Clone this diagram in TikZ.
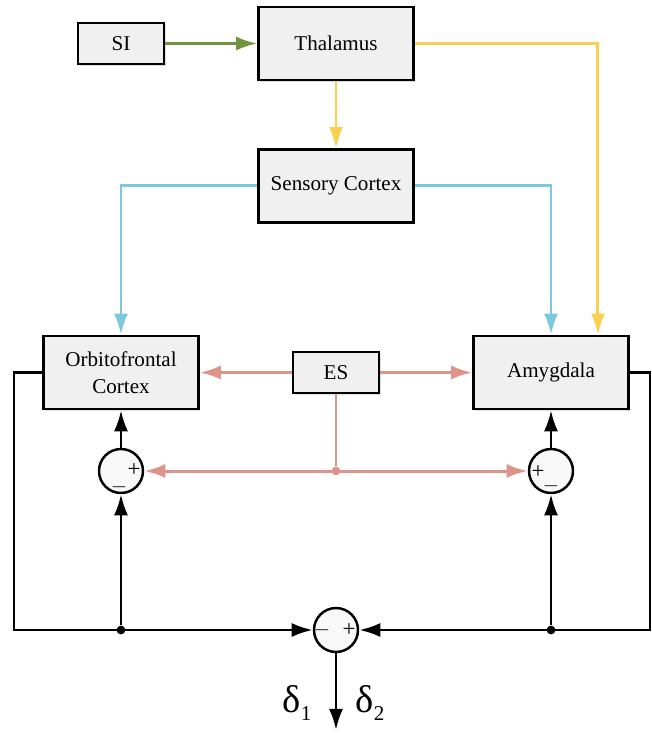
\documentclass[tikz,border=0pt]{standalone}
\usepackage{fontspec}
\setmainfont{Liberation Serif}
\usetikzlibrary{arrows.meta,positioning,shadows}

\definecolor{boxgray}{RGB}{240,240,240}
\definecolor{siGreen}{RGB}{114,148,62}
\definecolor{thYellow}{RGB}{250,208,80}
\definecolor{scBlue}{RGB}{125,200,222}
\definecolor{esPink}{RGB}{222,148,138}

\begin{document}
\begin{tikzpicture}[
    x=0.02cm, y=-0.02cm,
    box/.style={rectangle, draw, line width=1.4pt, fill=boxgray, minimum width=3.1cm, minimum height=1.46cm, align=center, font=\fontsize{12}{15}\selectfont, drop shadow={opacity=0.25, shadow xshift=1pt, shadow yshift=-1pt}},
    smallbox/.style={box, minimum width=1.72cm, minimum height=0.82cm},
    sumnode/.style={circle, draw, line width=1.4pt, fill=boxgray!50, minimum size=0.88cm, inner sep=0pt},
    sign/.style={inner sep=0pt, font=\fontsize{13}{13}\selectfont},
    dot/.style={circle, fill, inner sep=0pt, minimum size=5pt},
    sig/.style={-{Latex[length=12pt, width=8pt]}, line width=1.6pt},
    colarrow/.style={-{Latex[length=12pt, width=8pt]}, line width=1.7pt}
]
\useasboundingbox (0,0) rectangle (652,735);

% blocks
\node[box] (thal) at (336,43.5) {Thalamus};
\node[smallbox] (si) at (121,43.5) {SI};
\node[box, below=1.34cm of thal] (sens) {Sensory Cortex};
\node[box] (ofc) at (121,372.5) {Orbitofrontal\\Cortex};
\node[box] (amy) at (551,372.5) {Amygdala};
\node[smallbox] (es) at (336,372.5) {ES};

% summing junctions
\node[sumnode] (sumL) at (121,471) {};
\node[sumnode] (sumR) at (551,471) {};
\node[sumnode] (sumB) at (336,630) {};
\node[sign] at (134,470) {+};
\node[sign] at (119,487) {$-$};
\node[sign] at (538,472) {+};
\node[sign] at (551,486) {$-$};
\node[sign] at (322,630) {$-$};
\node[sign] at (349,630) {+};

\node[dot] (dotL) at (121,630) {};
\node[dot] (dotR) at (551,630) {};
\node[dot, esPink] (dotES) at (336,471) {};
\coordinate (edgeL) at (14,372.5);
\coordinate (edgeR) at (650,372.5);
\coordinate (out) at (336,730);

% sensory paths
\draw[colarrow, siGreen] (si) -- (thal);
\draw[colarrow, thYellow] (thal) -- (sens);
\draw[colarrow, thYellow] (thal.east) -| ([xshift=0.94cm]amy.north);
\draw[colarrow, scBlue] (sens.west) -| (ofc.north);
\draw[colarrow, scBlue] (sens.east) -| (amy.north);

% emotional signal
\draw[colarrow, esPink] (es) -- (ofc);
\draw[colarrow, esPink] (es) -- (amy);
\draw[esPink, line width=1.7pt] (es.south) -- (dotES);
\draw[colarrow, esPink, {Latex[length=12pt, width=8pt]}-{Latex[length=12pt, width=8pt]}] (sumL) -- (sumR);

% feedback loops
\draw[sig] (sumL) -- (ofc);
\draw[sig] (sumR) -- (amy);
\draw[sig] (dotL) -- (sumL);
\draw[sig] (dotR) -- (sumR);
\draw[sig] (ofc.west) -- (edgeL) |- (sumB.west);
\draw[sig] (amy.east) -- (edgeR) |- (sumB.east);
\draw[sig] (sumB) -- (out);

\node[font=\fontsize{22}{22}\selectfont] (d1) at (297,703) {δ\raisebox{-0.45ex}{\fontsize{12}{12}\selectfont 1}};
\node[font=\fontsize{22}{22}\selectfont] (d2) at (370,703) {δ\raisebox{-0.45ex}{\fontsize{12}{12}\selectfont 2}};

\end{tikzpicture}
\end{document}
